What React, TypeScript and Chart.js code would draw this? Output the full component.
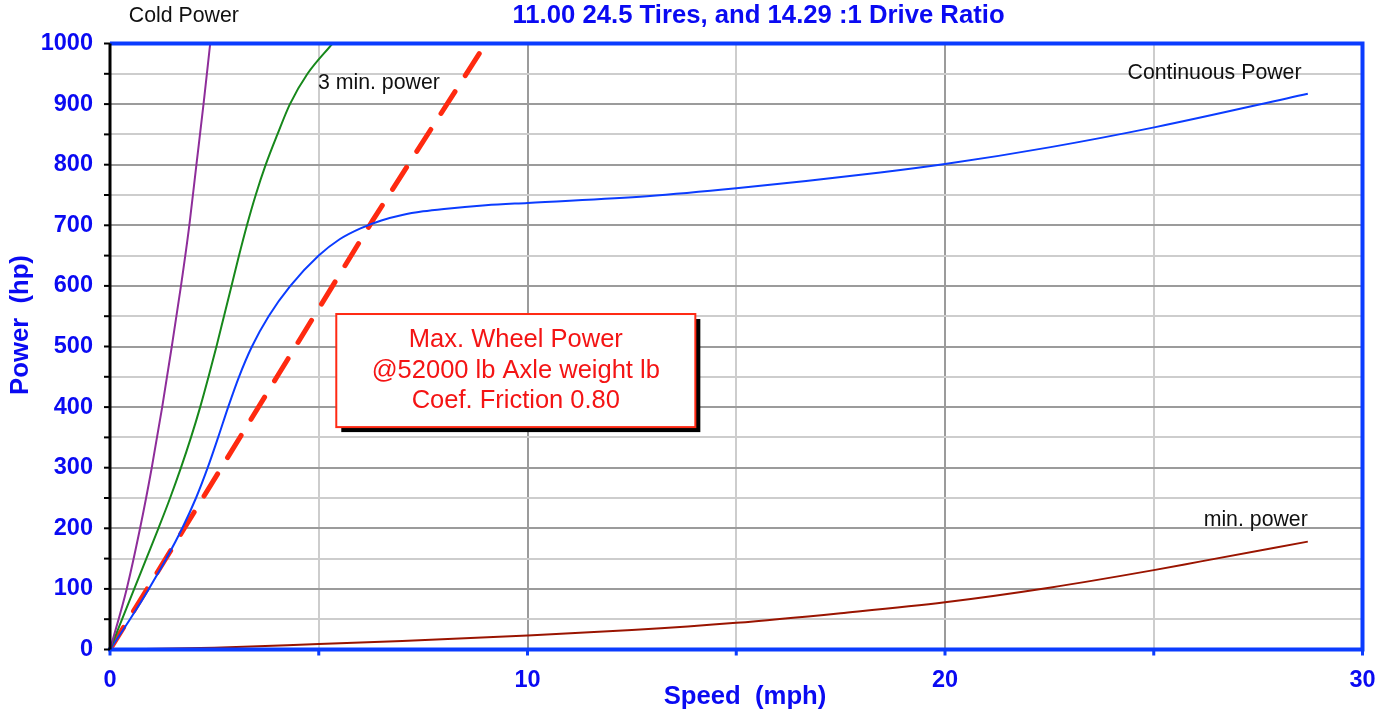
import React, { useEffect, useRef } from 'react';
import { Chart, registerables } from 'chart.js';

Chart.register(...registerables);

// ---- Data (speed in mph, power in hp) ----
const coldSpeed = [0, 0.4, 0.72, 1.0, 1.25, 1.48, 1.7, 1.9, 2.07, 2.24, 2.4];
const coldPower = [0, 100, 200, 300, 400, 500, 600, 700, 800, 900, 1000];

const threeMinSpeed = [0, 0.29, 0.58, 0.87, 1.16, 1.44, 1.7, 1.94, 2.16, 2.36, 2.55, 2.73, 2.91, 3.09, 3.28, 3.49, 3.73, 4.01, 4.31, 4.73, 5.33];
const threeMinPower = [0, 50, 100, 150, 200, 250, 300, 350, 400, 450, 500, 550, 600, 650, 700, 750, 800, 850, 900, 950, 1000];

const contSpeed = [0, 0.48, 0.93, 1.35, 1.73, 2.06, 2.34, 2.59, 2.83, 3.09, 3.4, 3.8, 4.32, 5.0, 5.5, 6.0, 6.5, 7.0, 7.5, 8.0, 9.0, 10, 12.86, 15, 18.45, 20, 22.53, 25.04, 28.69];
const contPower = [0, 50, 100, 150, 200, 250, 300, 350, 400, 450, 500, 550, 600, 650, 677, 695, 708, 717, 723, 727, 733, 737, 748, 761, 787, 801, 829, 862, 917];

const minSpeed = [0, 2.5, 5, 7, 10, 12.5, 15, 17.5, 20, 22.5, 25, 26.1, 28.69];
const minPower = [0, 3, 9, 14, 23, 32, 44, 60, 78, 102, 131, 145, 178];

const wheelSpeed = [0, 1.78, 4.0, 6.3, 9.0];
const wheelPower = [0, 200, 450, 709, 1000];

const xTickLabels = ['0', '10', '20', '30'];
const yTickStep = 50;

const titleText = '11.00 24.5 Tires, and 14.29 :1 Drive Ratio';
const xTitle = 'Speed  (mph)';
const yTitle = 'Power  (hp)';
const boxLines = ['Max. Wheel Power', '@52000 lb Axle weight lb', 'Coef. Friction 0.80'];

const FONT = "'Liberation Sans', Arial, Helvetica, sans-serif";
const BLUE_TEXT = '#0a0af2';
const BLUE_LINE = '#0b3cff';

const pts = (xs: number[], ys: number[]) => xs.map((v, i) => ({ x: v, y: ys[i] }));

const overlay = {
  id: 'overlay',
  afterDatasetsDraw(chart: any) {
    const { ctx, chartArea: a, scales } = chart;
    const x = scales.x;
    const y = scales.y;
    ctx.save();

    // annotation box
    const bx0 = x.getPixelForValue(5.42);
    const bx1 = x.getPixelForValue(14.02);
    const by0 = y.getPixelForValue(553.6);
    const by1 = y.getPixelForValue(367);
    ctx.fillStyle = '#000';
    ctx.fillRect(bx0 + 5, by0 + 5, bx1 - bx0, by1 - by0);
    ctx.fillStyle = '#fff';
    ctx.fillRect(bx0, by0, bx1 - bx0, by1 - by0);
    ctx.strokeStyle = '#ff2a14';
    ctx.lineWidth = 2;
    ctx.strokeRect(bx0, by0, bx1 - bx0, by1 - by0);
    ctx.fillStyle = '#f41414';
    ctx.font = `25.5px ${FONT}`;
    ctx.textAlign = 'center';
    ctx.textBaseline = 'middle';
    const cx = (bx0 + bx1) / 2;
    const cy = (by0 + by1) / 2;
    boxLines.forEach((t, i) => ctx.fillText(t, cx, cy + (i - 1) * 30.5));

    // frame: top, right, bottom blue; left black
    ctx.strokeStyle = BLUE_LINE;
    ctx.lineWidth = 4;
    ctx.beginPath();
    ctx.moveTo(a.left, a.top);
    ctx.lineTo(a.right, a.top);
    ctx.lineTo(a.right, a.bottom);
    ctx.lineTo(a.left - 2, a.bottom);
    ctx.stroke();

    // x ticks (blue, every 5 mph)
    ctx.fillStyle = BLUE_LINE;
    for (let v = 0; v <= 30; v += 5) {
      const px = x.getPixelForValue(v);
      ctx.fillRect(px - 1.5, a.bottom, 3, 6);
    }

    // left axis (black) with ticks
    ctx.strokeStyle = '#000';
    ctx.lineWidth = 3;
    ctx.beginPath();
    ctx.moveTo(a.left, a.top);
    ctx.lineTo(a.left, a.bottom);
    ctx.stroke();
    ctx.lineWidth = 2;
    for (let v = 0; v <= 1000; v += yTickStep) {
      const py = y.getPixelForValue(v);
      ctx.beginPath();
      ctx.moveTo(a.left - 6, py);
      ctx.lineTo(a.left, py);
      ctx.stroke();
    }

    // curve labels
    ctx.fillStyle = '#111';
    ctx.font = `21.3px ${FONT}`;
    ctx.textBaseline = 'middle';
    ctx.textAlign = 'center';
    ctx.fillText('Cold Power', x.getPixelForValue(1.77), y.getPixelForValue(1045.4));
    ctx.textAlign = 'left';
    ctx.fillText('3 min. power', x.getPixelForValue(4.98), y.getPixelForValue(935));
    ctx.textAlign = 'right';
    ctx.fillText('Continuous Power', x.getPixelForValue(28.54), y.getPixelForValue(951));
    ctx.fillText('min. power', x.getPixelForValue(28.69), y.getPixelForValue(213.7));

    // titles
    ctx.fillStyle = BLUE_TEXT;
    ctx.font = `bold 25.7px ${FONT}`;
    ctx.textAlign = 'center';
    ctx.fillText(titleText, 758.5, 16);
    ctx.fillText(xTitle, 745, 697);
    ctx.save();
    ctx.translate(21, 325);
    ctx.rotate(-Math.PI / 2);
    ctx.fillText(yTitle, 0, 0);
    ctx.restore();

    ctx.restore();
  },
};

export default function App() {
  const ref = useRef<HTMLCanvasElement | null>(null);

  useEffect(() => {
    if (!ref.current) return;
    const tickFont = { family: FONT, size: 23.5, weight: 'bold' as const };
    const common = { fill: false, pointRadius: 0, borderWidth: 2, cubicInterpolationMode: 'monotone' as const };
    const chart = new Chart(ref.current, {
      type: 'line',
      data: {
        datasets: [
          { ...common, label: 'Cold Power', data: pts(coldSpeed, coldPower), borderColor: '#8e2d9a' },
          { ...common, label: '3 min. power', data: pts(threeMinSpeed, threeMinPower), borderColor: '#17881b' },
          { ...common, label: 'Continuous Power', data: pts(contSpeed, contPower), borderColor: '#0b3cff' },
          { ...common, label: 'min. power', data: pts(minSpeed, minPower), borderColor: '#9a1400' },
          {
            ...common,
            label: 'Max. Wheel Power',
            data: pts(wheelSpeed, wheelPower),
            borderColor: '#ff2a10',
            borderWidth: 5,
            borderDash: [26, 19],
            borderCapStyle: 'round',
            cubicInterpolationMode: 'default',
            tension: 0,
          },
        ],
      },
      options: {
        animation: false,
        responsive: false,
        maintainAspectRatio: false,
        layout: { padding: { top: 43.5, right: 30.5, left: 0, bottom: 0 } },
        plugins: { legend: { display: false }, tooltip: { enabled: false }, title: { display: false } },
        scales: {
          x: {
            type: 'linear',
            min: 0,
            max: 30,
            afterFit: (s: any) => { s.height = 67.5; },
            border: { display: false },
            grid: {
              drawTicks: false,
              lineWidth: 2,
              color: (c: any) => (c.tick && c.tick.value % 10 === 0 ? '#9b9b9b' : '#cdcdcd'),
            },
            ticks: {
              stepSize: 5,
              autoSkip: false,
              maxRotation: 0,
              padding: 17,
              color: BLUE_TEXT,
              font: tickFont,
              callback: (v: any) => {
                const s = String(v);
                return xTickLabels.includes(s) ? s : '';
              },
            },
          },
          y: {
            type: 'linear',
            min: 0,
            max: 1000,
            afterFit: (s: any) => { s.width = 110; },
            border: { display: false },
            grid: {
              drawTicks: false,
              lineWidth: 2,
              color: (c: any) => (c.tick && c.tick.value % 100 === 0 ? '#9b9b9b' : '#cdcdcd'),
            },
            ticks: {
              stepSize: yTickStep,
              autoSkip: false,
              padding: 17,
              color: BLUE_TEXT,
              font: tickFont,
              callback: (v: any) => (Number(v) % 100 === 0 ? String(v) : ''),
            },
          },
        },
      },
      plugins: [overlay],
    });
    return () => chart.destroy();
  }, []);

  return (
    <div style={{ position: 'absolute', left: 0, top: 0, width: 1393, height: 717, background: '#fff' }}>
      <canvas ref={ref} width={1393} height={717} style={{ display: 'block' }} />
    </div>
  );
}
